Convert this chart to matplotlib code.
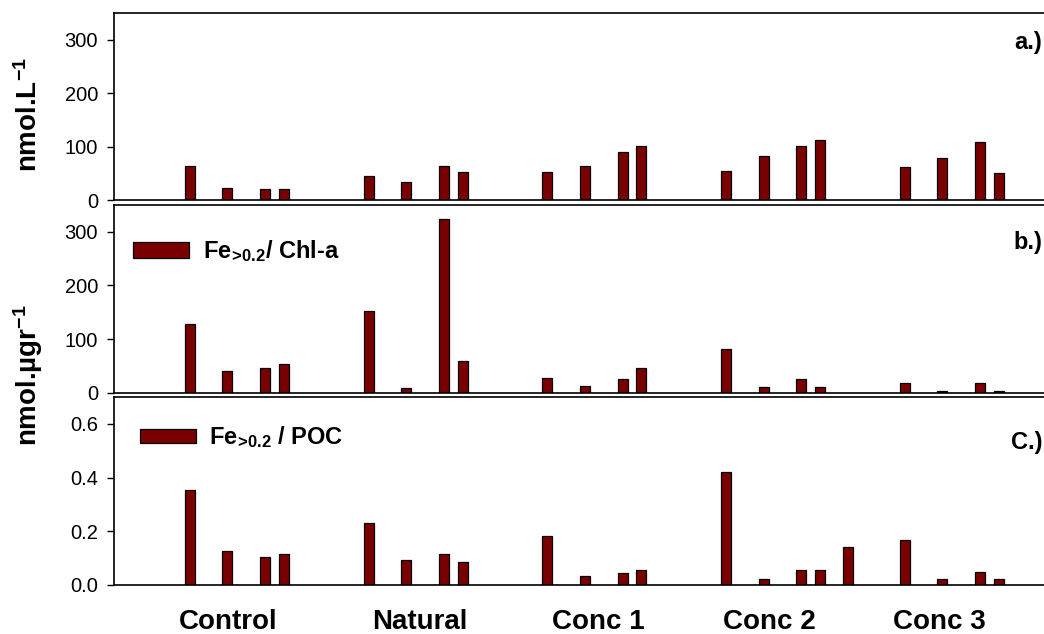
import matplotlib

matplotlib.use("Agg")
from matplotlib import pyplot as plt
from matplotlib import transforms
from matplotlib.patches import Patch

plt.rcParams["font.family"] = ["Liberation Sans", "DejaVu Sans"]
plt.rcParams["mathtext.fontset"] = "custom"
plt.rcParams["mathtext.rm"] = "Liberation Sans"
plt.rcParams["mathtext.bf"] = "Liberation Sans:bold"
plt.rcParams["mathtext.default"] = "bf"

# Data (one list per treatment)
groups = ["Control", "Natural", "Conc 1", "Conc 2", "Conc 3"]
fe_total = [
    [64, 22.5, 21, 20],
    [45.6, 33.7, 64, 52],
    [53, 63, 90, 100.6],
    [53.8, 82, 100.6, 113],
    [62.5, 79.4, 108, 50],
]
fe_chl = [
    [129, 41, 46.7, 53],
    [152.7, 8.2, 324, 59],
    [27.5, 13, 26, 46.7],
    [81, 10, 26, 11],
    [18.7, 3.7, 17.5, 3.2],
]
fe_poc = [
    [0.353, 0.125, 0.106, 0.115],
    [0.231, 0.0925, 0.117, 0.086],
    [0.1835, 0.033, 0.045, 0.054],
    [0.422, 0.024, 0.056, 0.055, 0.14],
    [0.166, 0.021, 0.0475, 0.0225],
]

# Layout of the bar slots along the x axis
group_start = [0, 9.5, 19, 28.5, 38]
slot_offsets = [0, 2, 4, 5, 6.5]
label_x = [2.06, 12.22, 21.72, 30.8, 39.86]

BAR_COLOR = "#7a0000"
W, H = 1044, 634


def px_axes(top, bottom):
    left = 114 / W
    return [left, (H - bottom) / H, 1.0 - left, (bottom - top) / H]


def draw_bars(ax, values):
    for start, vals in zip(group_start, values):
        xs = [start + slot_offsets[i] for i in range(len(vals))]
        ax.bar(xs, vals, width=0.53, color=BAR_COLOR, edgecolor="black", linewidth=0.9)


def style_axis(ax, ylim, yticks, fmt):
    ax.set_xlim(-4.03, 45.4)
    ax.set_ylim(*ylim)
    ax.set_yticks(yticks)
    ax.set_yticklabels([fmt.format(t) for t in yticks])
    ax.set_xticks([])
    ax.spines["right"].set_visible(False)
    for s in ["left", "top", "bottom"]:
        ax.spines[s].set_linewidth(1.2)
    ax.tick_params(axis="y", direction="out", length=5, width=1, pad=6.5, labelsize=14.5)


fig = plt.figure(figsize=(W / 100, H / 100), dpi=100)
ax_a = fig.add_axes(px_axes(13, 200))
ax_b = fig.add_axes(px_axes(205, 392.7))
ax_c = fig.add_axes(px_axes(397, 585))

draw_bars(ax_a, fe_total)
draw_bars(ax_b, fe_chl)
draw_bars(ax_c, fe_poc)

style_axis(ax_a, (0, 350), [0, 100, 200, 300], "{:.0f}")
style_axis(ax_b, (0, 350), [0, 100, 200, 300], "{:.0f}")
style_axis(ax_c, (0, 0.7), [0.0, 0.2, 0.4, 0.6], "{:.1f}")

# legends
sub = r"$\mathbf{Fe}_{\!\mathbf{>}\!\mathbf{0.2}}$"
h = Patch(facecolor=BAR_COLOR, edgecolor="black", linewidth=0.9)
ax_b.legend([h], [sub + "/ Chl-a"], loc="center left",
            bbox_to_anchor=(0.0204, 0.755), frameon=False, borderpad=0,
            borderaxespad=0, handlelength=2.37, handleheight=0.64,
            handletextpad=0.6, prop={"weight": "bold", "size": 17})
ax_c.legend([h], [sub + " / POC"], loc="center left",
            bbox_to_anchor=(0.028, 0.785), frameon=False, borderpad=0,
            borderaxespad=0, handlelength=2.37, handleheight=0.58,
            handletextpad=0.55, prop={"weight": "bold", "size": 17})

# panel tags
for y, tag in [(42, "a.)"), (243, "b.)"), (443, "C.)")]:
    fig.text(1042 / W, (H - y) / H, tag, ha="right", va="center",
             fontsize=17, fontweight="bold")

# y labels
fig.text(29 / W, (H - 115) / H, r"nmol.L$^{-1}$", rotation=90, ha="center",
         va="center", fontsize=20, fontweight="bold")
fig.text(28 / W, (H - 375) / H, r"nmol.µgr$^{-1}$", rotation=90, ha="center",
         va="center", fontsize=20, fontweight="bold")

# group labels under the bottom panel
trans = transforms.blended_transform_factory(ax_c.transData, fig.transFigure)
for x, name in zip(label_x, groups):
    ax_c.text(x, (H - 629) / H, name, transform=trans, ha="center",
              va="baseline", fontsize=20, fontweight="bold")

fig.savefig("out.png", dpi=100)
